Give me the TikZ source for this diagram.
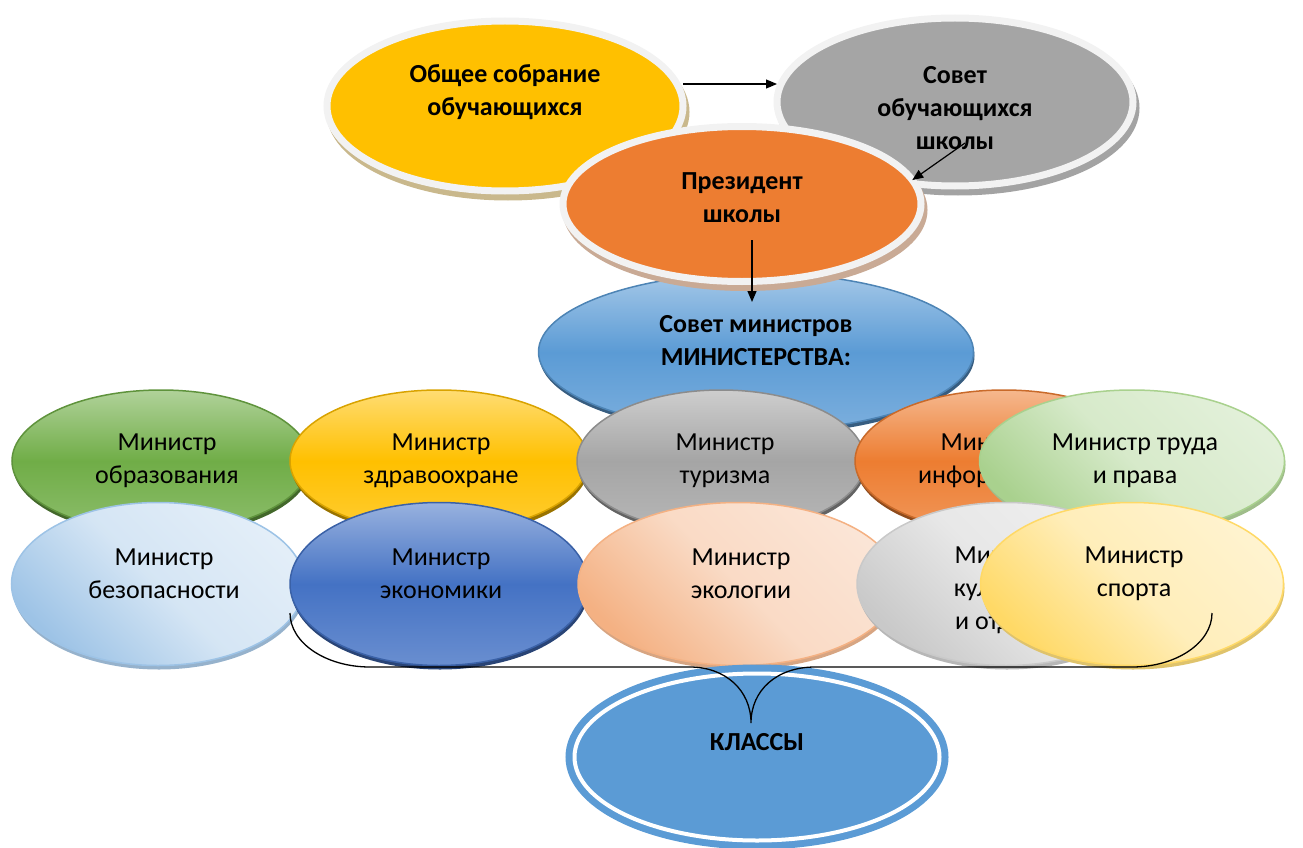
\documentclass[tikz,border=0pt]{standalone}
\usepackage{fontspec}
\setmainfont{Carlito}
\usepackage{tikz}
\usetikzlibrary{arrows.meta,shapes.geometric,shadows,calc}
\definecolor{yelnode}{HTML}{FFC000}
\definecolor{yelshade}{HTML}{C9B88C}
\definecolor{graynode}{HTML}{A5A5A5}
\definecolor{grayshade}{HTML}{A3A3A3}
\definecolor{orangenode}{HTML}{ED7D31}
\definecolor{orangeshade}{HTML}{C9AA95}
\definecolor{rim}{HTML}{F2F2F2}
\definecolor{bluenode}{HTML}{5B9BD5}
\definecolor{greennode}{HTML}{70AD47}
\definecolor{navynode}{HTML}{4472C4}
\definecolor{lightblue}{HTML}{9DC3E6}
\definecolor{paleblue}{HTML}{E3EEF8}
\definecolor{peach}{HTML}{F4B183}
\definecolor{palepeach}{HTML}{FBE5D6}
\definecolor{silver}{HTML}{C9C9C9}
\definecolor{palesilver}{HTML}{EFEFEF}
\definecolor{sand}{HTML}{FFD966}
\definecolor{palesand}{HTML}{FFF3CF}
\definecolor{mint}{HTML}{A9D18E}
\definecolor{palemint}{HTML}{E2F0D9}
\tikzset{
       arr/.style = {-{Triangle[length=11pt,width=9pt]}, line width=1.2pt},  % <--- arrow heads
      base/.style = {ellipse, inner sep=0pt, outer sep=0pt},
       txt/.style = {font=\fontsize{26pt}{33pt}\selectfont, align=center, inner sep=0pt},
       ttl/.style = {txt, font=\fontsize{26pt}{33pt}\selectfont\bfseries},
     chief/.style 2 args = {base, draw=rim, line width=7pt, fill=#1,
                     drop shadow={shadow xshift=3pt, shadow yshift=-6pt,
                                  fill=#2, draw=#2, line width=7pt, opacity=1}},
  minister/.style = {base, line width=1.5pt, minimum width=298pt},
    strong/.style = {minister, draw=#1!85!black, top color=#1!55!white,
                     bottom color=#1!80!white, middle color=#1,
                     drop shadow={shadow xshift=1pt, shadow yshift=-4pt,
                                  fill=#1!60!black, opacity=1}},
      soft/.style 2 args = {minister, draw=#1, bottom color=#1, top color=#2,
                     middle color=#2!80!#1,
                     shading angle=-45,                 % light towards top right
                     drop shadow={shadow xshift=1pt, shadow yshift=-4pt,
                                  fill=#1!75!gray, opacity=1}},
     upper/.style = {minimum height=142pt},
     lower/.style = {minimum height=163pt},
}
\begin{document}
\begin{tikzpicture}[x=1pt, y=-1pt]
\useasboundingbox (0,0) rectangle (1303,848);
% top of the scheme
\node[chief={yelnode}{yelshade}, minimum width=356pt, minimum height=170pt,
      label={[ttl, yshift=14pt]center:Общее собрание\\обучающихся}] (sobr) at (505,106) {};
\node[chief={graynode}{grayshade}, minimum width=356pt, minimum height=168pt,
      label={[ttl, yshift=-6pt]center:Совет\\обучающихся\\школы}] (sovuch) at (955,102) {};
\draw[arr] (sobr.east |- 0,84) -- (sovuch.west |- 0,84);
\node[strong=bluenode, minimum width=435pt, minimum height=158pt,
      label={[ttl, yshift=11pt]center:Совет министров\\МИНИСТЕРСТВА:}] (sovmin) at (756,352) {};
\node[chief={orangenode}{orangeshade}, minimum width=358pt, minimum height=155pt,
      label={[ttl, yshift=6pt]center:Президент\\школы}] (prez) at (742,204) {};
\draw[arr] ($(sovuch.center)+(10,41)$) -- (prez.8);
\draw[arr] ($(prez.center)+(10,36)$) -- ($(sovmin.center)+(-4,-50)$);
% ministers, upper row
\node[strong=greennode, upper, label={[txt, xshift=6pt]center:Министр\\образования}] (obraz) at (161,461) {};
\node[strong=yelnode, upper, label={[txt, xshift=2pt]center:Министр\\здравоохране}] (zdrav) at (439,461) {};
\node[strong=graynode, upper, minimum width=288pt, label={[txt, xshift=4pt]center:Министр\\туризма}] (turizm) at (721,461) {};
\node[strong=orangenode, upper, label={[txt, xshift=-14pt]center:Министр\\информации}] (inform) at (1004,461) {};
\node[soft={mint}{palemint}, upper, minimum width=305pt, label={[txt, xshift=3pt]center:Министр труда\\и права}] (trud) at (1132,461) {};
% ministers, lower row
\node[soft={lightblue}{paleblue}, lower, minimum width=293pt, label={[txt, xshift=6pt, yshift=10pt]center:Министр\\безопасности}] (bezop) at (158,584) {};
\node[strong=navynode, lower, label={[txt, xshift=2pt, yshift=10pt]center:Министр\\экономики}] (ekonom) at (439,584) {};
\node[soft={peach}{palepeach}, lower, minimum width=320pt, label={[txt, xshift=3pt, yshift=10pt]center:Министр\\экологии}] (ekolog) at (738,584) {};
\node[soft={silver}{palesilver}, lower, label={[txt, xshift=-2pt, yshift=-6pt]center:Министр\\культуры\\и отдыха}] (kultur) at (1006,584) {};
\node[soft={sand}{palesand}, lower, minimum width=303pt, label={[txt, xshift=2pt, yshift=10pt]center:Министр\\спорта}] (sport) at (1132,584) {};
% classes
\node[base, fill=bluenode, draw=bluenode, line width=7pt, double=white, double distance=4pt,
      minimum width=365pt, minimum height=167pt,
      label={[ttl, yshift=15pt]center:КЛАССЫ}] (klassy) at (757,757) {};
\draw[line width=1.3pt] (290,613) .. controls (290,643) and (326,667) .. (370,667)
   -- (690,667) .. controls (725,667) and (751,690) .. (751,723)
   .. controls (751,690) and (777,667) .. (815,667)
   -- (1132,667) .. controls (1176,667) and (1212,643) .. (1212,613);
\end{tikzpicture}
\end{document}
